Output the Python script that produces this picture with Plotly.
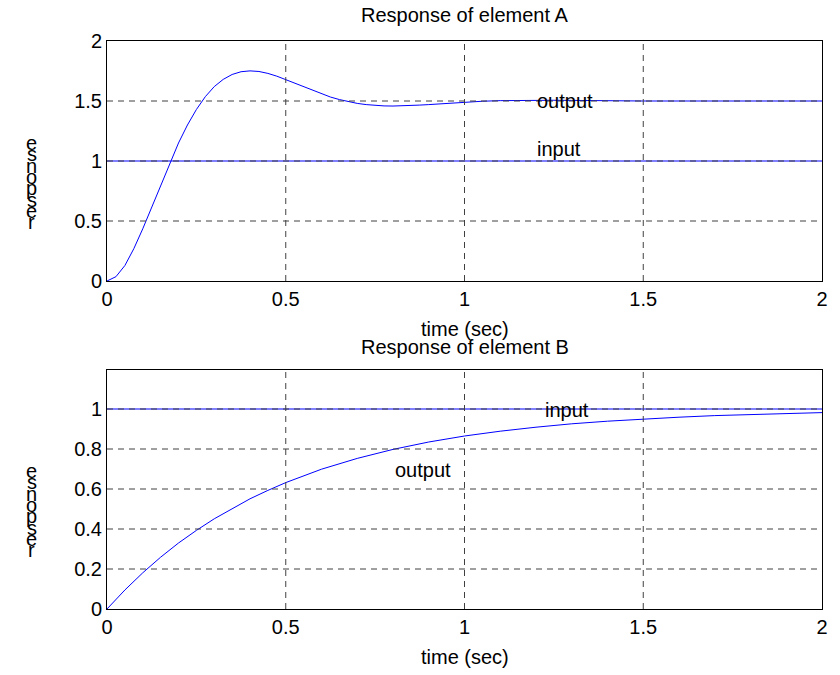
import plotly.graph_objects as go

# ---- data ----
tA = [0, 0.025, 0.05, 0.075, 0.1, 0.125, 0.15, 0.175, 0.2, 0.225, 0.25, 0.275, 0.3, 0.325,
      0.35, 0.375, 0.4, 0.425, 0.45, 0.475, 0.5, 0.525, 0.55, 0.575, 0.6, 0.625, 0.65, 0.675,
      0.7, 0.725, 0.75, 0.775, 0.8, 0.825, 0.85, 0.875, 0.9, 0.925, 0.95, 0.975, 1.0,
      1.05, 1.1, 1.15, 1.2, 1.25, 1.3, 1.35, 1.4, 1.45, 1.5, 1.6, 1.7, 1.8, 1.9, 2.0]
outA = [0, 0.036, 0.129, 0.269, 0.435, 0.616, 0.802, 0.983, 1.150, 1.300, 1.429, 1.536, 1.620, 1.680,
        1.721, 1.744, 1.751, 1.746, 1.730, 1.707, 1.678, 1.648, 1.617, 1.587, 1.558, 1.533, 1.512, 1.494,
        1.480, 1.470, 1.463, 1.459, 1.458, 1.459, 1.462, 1.466, 1.470, 1.475, 1.480, 1.485, 1.490,
        1.498, 1.503, 1.506, 1.507, 1.506, 1.505, 1.503, 1.502, 1.501, 1.500, 1.500, 1.500, 1.500, 1.500, 1.500]
inA_t = [0, 2]
inA = [1, 1]

tB = [0, 0.05, 0.1, 0.15, 0.2, 0.25, 0.3, 0.35, 0.4, 0.45, 0.5, 0.6, 0.7, 0.8, 0.9, 1.0,
      1.1, 1.2, 1.3, 1.4, 1.5, 1.6, 1.7, 1.8, 1.9, 2.0]
outB = [0, 0.095, 0.181, 0.259, 0.330, 0.393, 0.451, 0.503, 0.551, 0.593, 0.632, 0.699, 0.753, 0.798,
        0.835, 0.865, 0.889, 0.909, 0.926, 0.939, 0.950, 0.959, 0.967, 0.973, 0.978, 0.982]
inB_t = [0, 2]
inB = [1, 1]

xticks = [0, 0.5, 1, 1.5, 2]
xtick_text = ["0", "0.5", "1", "1.5", "2"]
yticksA = [0, 0.5, 1, 1.5, 2]
yticksA_text = ["0", "0.5", "1", "1.5", "2"]
yticksB = [0, 0.2, 0.4, 0.6, 0.8, 1]
yticksB_text = ["0", "0.2", "0.4", "0.6", "0.8", "1"]

titles = ["Response of element A", "Response of element B"]
xlabel = "time (sec)"
ylabel = "response"

# ---- figure ----
W, H = 840, 675
L, R, T, B = 107, 13, 41, 66
FONT = "Liberation Sans, Arial, sans-serif"
FS = 20
blue = "#0000ff"
gridc = "#404040"

fig = go.Figure()
fig.add_trace(go.Scatter(x=tA, y=outA, mode="lines", line=dict(color=blue, width=1), xaxis="x", yaxis="y", showlegend=False))
fig.add_trace(go.Scatter(x=inA_t, y=inA, mode="lines", line=dict(color=blue, width=1), xaxis="x", yaxis="y", showlegend=False))
fig.add_trace(go.Scatter(x=tB, y=outB, mode="lines", line=dict(color=blue, width=1), xaxis="x2", yaxis="y2", showlegend=False))
fig.add_trace(go.Scatter(x=inB_t, y=inB, mode="lines", line=dict(color=blue, width=1), xaxis="x2", yaxis="y2", showlegend=False))

plot_h = H - T - B
def py2paper(py):
    return (H - B - py) / plot_h
def px2paper(px):
    return (px - L) / (W - L - R)

domA = [py2paper(281), 1.0]
domB = [0.0, py2paper(370)]

axis_common = dict(
    showline=True, linecolor="black", linewidth=1, mirror=True,
    ticks="", showgrid=False,
    zeroline=False, tickfont=dict(family=FONT, size=FS, color="black"),
)

fig.update_layout(
    width=W, height=H,
    margin=dict(l=L, r=R, t=T, b=B),
    plot_bgcolor="white", paper_bgcolor="white",
    font=dict(family=FONT, size=FS, color="black"),
    xaxis=dict(axis_common, range=[0, 2], tickvals=xticks, ticktext=xtick_text, domain=[0, 1], anchor="y"),
    yaxis=dict(axis_common, range=[0, 2], tickvals=yticksA, ticktext=yticksA_text, domain=domA, anchor="x"),
    xaxis2=dict(axis_common, range=[0, 2], tickvals=xticks, ticktext=xtick_text, domain=[0, 1], anchor="y2"),
    yaxis2=dict(axis_common, range=[0, 1.195], tickvals=yticksB, ticktext=yticksB_text, domain=domB, anchor="x2"),
)

# dashed grid drawn above the lines (as in the reference)
shapes = []
gl = dict(color=gridc, width=1, dash="6px,5px")
for xa, ya, yt, yr in [("x", "y", yticksA, 2), ("x2", "y2", yticksB, 1.195)]:
    for xv in xticks[1:-1]:
        shapes.append(dict(type="line", xref=xa, yref=ya + " domain", x0=xv, x1=xv, y0=0, y1=1,
                           line=gl, layer="above"))
    for yv in yt:
        if yv <= 0 or yv >= yr:
            continue
        shapes.append(dict(type="line", xref=xa + " domain", yref=ya, x0=0, x1=1, y0=yv, y1=yv,
                           line=gl, layer="above"))
fig.update_layout(shapes=shapes)

ann = []
for txt, py in [(titles[0], 15), (titles[1], 347), (xlabel, 329), (xlabel, 657)]:
    ann.append(dict(text=txt, x=0.5, y=py2paper(py), xref="paper", yref="paper",
                    xanchor="center", yanchor="middle", showarrow=False,
                    font=dict(family=FONT, size=FS, color="black")))
letters = list(reversed(ylabel))
for start in (143, 471):
    for i, ch in enumerate(letters):
        ann.append(dict(text=ch, x=px2paper(31), y=py2paper(start + i * 11.3), xref="paper", yref="paper",
                        xanchor="center", yanchor="middle", showarrow=False,
                        font=dict(family=FONT, size=FS, color="black")))
ann.append(dict(text="output", x=1.198, y=1.5, xref="x", yref="y", xanchor="left", yanchor="middle", showarrow=False))
ann.append(dict(text="input", x=1.198, y=1.096, xref="x", yref="y", xanchor="left", yanchor="middle", showarrow=False))
ann.append(dict(text="input", x=1.22, y=0.995, xref="x2", yref="y2", xanchor="left", yanchor="middle", showarrow=False))
ann.append(dict(text="output", x=0.80, y=0.695, xref="x2", yref="y2", xanchor="left", yanchor="middle", showarrow=False))
fig.update_layout(annotations=ann)

fig.write_html("out.html", config={"displayModeBar": False},
               post_script="document.body.style.margin='0';")
